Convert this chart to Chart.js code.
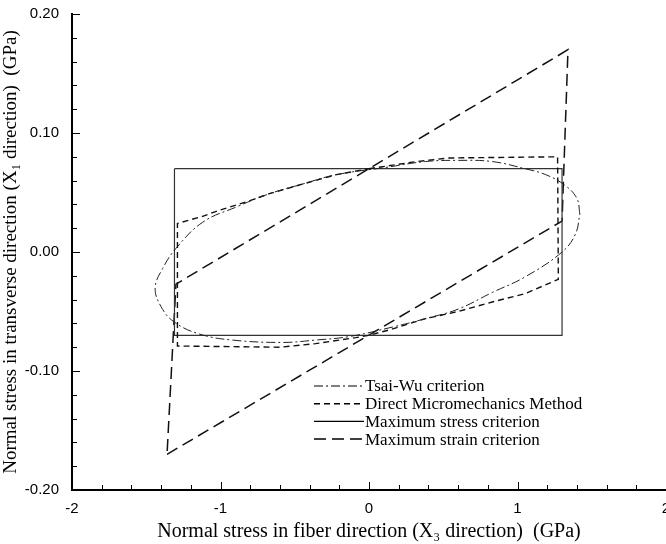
<!DOCTYPE html>
<html>
<head>
<meta charset="utf-8">
<script src="https://cdn.jsdelivr.net/npm/chart.js@4"></script>
<style>
    html, body { margin: 0; padding: 0; background: #fff; }
    #wrap { width: 666px; height: 544px; position: relative; }
</style>
</head>
<body>
<div id="wrap"><canvas id="chart"></canvas></div>
<script>
// failure envelopes (x = fiber dir GPa, y = transverse dir GPa)
const tsaiWuX = [1.42, 1.40, 1.32, 1.19, 1.05, 0.83, 0.60, 0.38, 0.11, -0.22, -0.45, -0.67, -0.89, -1.12, -1.30, -1.39, -1.44, -1.40, -1.31, -1.14, -0.92, -0.58, -0.36, -0.13, 0.16, 0.38, 0.60, 0.83, 1.05, 1.30, 1.39, 1.42];
const tsaiWuY = [0.032, 0.045, 0.056, 0.065, 0.070, 0.076, 0.077, 0.076, 0.071, 0.065, 0.057, 0.049, 0.038, 0.025, 0.003, -0.014, -0.030, -0.046, -0.059, -0.069, -0.074, -0.076, -0.074, -0.071, -0.063, -0.056, -0.048, -0.034, -0.021, 0.000, 0.015, 0.032];

const dmmX = [0, 0.16, 0.32, 0.54, 1.27, 1.275, 1.05, 0.83, 0.60, 0.38, 0.15, 0, -0.09, -0.36, -0.60, -1.29, -1.29, -1.12, -1.01, -0.83, -0.67, -0.45, -0.22, 0];
const dmmY = [0.070, 0.073, 0.076, 0.079, 0.080, -0.023, -0.035, -0.042, -0.050, -0.056, -0.065, -0.070, -0.072, -0.077, -0.080, -0.079, 0.024, 0.030, 0.035, 0.042, 0.049, 0.057, 0.065, 0.070];

const maxStressX = [-1.31, 1.30, 1.30, -1.31, -1.31];
const maxStressY = [0.07, 0.07, -0.07, -0.07, 0.07];

const maxStrainX = [-1.36, 1.30, 1.34, -1.30, -1.36];
const maxStrainY = [-0.17, 0.026, 0.17, -0.027, -0.17];

const seriesLabels = ['Tsai-Wu criterion', 'Direct Micromechanics Method', 'Maximum stress criterion', 'Maximum strain criterion'];
const xTickValues = [-2, -1, 0, 1, 2];
const yTickValues = [-0.2, -0.1, 0, 0.1, 0.2];

const toPts = (xs, ys) => xs.map((x, i) => ({ x: x, y: ys[i] }));

// ticks drawn inward, major + minor, like the original plot
const inwardTicks = {
    id: 'inwardTicks',
    afterDraw(chart) {
        const ctx = chart.ctx;
        const xs = chart.scales.x, ys = chart.scales.y;
        const area = chart.chartArea;
        ctx.save();
        ctx.strokeStyle = '#000';
        ctx.lineWidth = 1;
        for (let i = -20; i <= 20; i += 2) {
            const px = Math.round(xs.getPixelForValue(i / 10)) + 0.5;
            const len = (i % 10 === 0) ? 8 : 5;
            ctx.beginPath();
            ctx.moveTo(px, area.bottom);
            ctx.lineTo(px, area.bottom - len);
            ctx.stroke();
        }
        for (let i = -10; i <= 10; i++) {
            const py = Math.round(ys.getPixelForValue(i / 50)) + 0.5;
            const len = (i % 5 === 0) ? 8 : 5;
            ctx.beginPath();
            ctx.moveTo(area.left, py);
            ctx.lineTo(area.left + len, py);
            ctx.stroke();
        }
        ctx.restore();
    }
};

// legend sitting inside the plot, lower right
const innerLegend = {
    id: 'innerLegend',
    afterDraw(chart) {
        const ctx = chart.ctx;
        ctx.save();
        ctx.font = '17px "Liberation Serif", "Times New Roman", serif';
        ctx.textBaseline = 'middle';
        ctx.fillStyle = '#000';
        chart.data.datasets.forEach((ds, i) => {
            const y = 386 + i * 17.7;
            ctx.strokeStyle = '#000';
            ctx.lineWidth = ds.borderWidth;
            ctx.setLineDash(ds.borderDash || []);
            ctx.beginPath();
            ctx.moveTo(314, y);
            ctx.lineTo(364, y);
            ctx.stroke();
            ctx.setLineDash([]);
            ctx.fillText(ds.label, 365, y + 1);
        });
        ctx.restore();
    }
};

const ctx = document.getElementById('chart').getContext('2d');
new Chart(ctx, {
    type: 'scatter',
    data: {
        datasets: [
            {
                label: seriesLabels[0],
                data: toPts(tsaiWuX, tsaiWuY),
                showLine: true,
                borderColor: '#222',
                borderWidth: 1,
                borderDash: [9, 3, 2, 3],
                tension: 0.4,
                pointRadius: 0
            },
            {
                label: seriesLabels[1],
                data: toPts(dmmX, dmmY),
                showLine: true,
                borderColor: '#111',
                borderWidth: 1.4,
                borderDash: [6, 4],
                tension: 0,
                pointRadius: 0
            },
            {
                label: seriesLabels[2],
                data: toPts(maxStressX, maxStressY),
                showLine: true,
                borderColor: '#333',
                borderWidth: 1.2,
                pointRadius: 0
            },
            {
                label: seriesLabels[3],
                data: toPts(maxStrainX, maxStrainY),
                showLine: true,
                borderColor: '#111',
                borderWidth: 1.5,
                borderDash: [12, 6],
                pointRadius: 0
            }
        ]
    },
    options: {
        responsive: true,
        maintainAspectRatio: false,
        animation: false,
        layout: { padding: { top: 14, right: 0, left: 0, bottom: 0 } },
        scales: {
            x: {
                type: 'linear',
                min: -2,
                max: 2,
                afterBuildTicks: (scale) => { scale.ticks = xTickValues.map(v => ({ value: v })); },
                afterFit: (scale) => { scale.height = 54; scale.paddingRight = 0; scale.paddingLeft = 0; },
                ticks: {
                    color: '#000',
                    padding: 10,
                    font: { size: 15, family: '"Liberation Sans", Arial, sans-serif' },
                    callback: (v) => String(v)
                },
                grid: { display: false, drawTicks: false },
                border: { display: true, color: '#000', width: 2 },
                title: {
                    display: true,
                    text: 'Normal stress in fiber direction (X\u2083 direction)  (GPa)',
                    color: '#000',
                    padding: { top: 1, bottom: 0 },
                    font: { size: 20, family: '"Liberation Serif", "Times New Roman", serif' }
                }
            },
            y: {
                type: 'linear',
                min: -0.2,
                max: 0.2,
                afterBuildTicks: (scale) => { scale.ticks = yTickValues.map(v => ({ value: v })); },
                afterFit: (scale) => { scale.width = 72; scale.paddingTop = 0; scale.paddingBottom = 0; },
                ticks: {
                    color: '#000',
                    padding: 13,
                    font: { size: 15, family: '"Liberation Sans", Arial, sans-serif' },
                    callback: (v) => Number(v).toFixed(2)
                },
                grid: { display: false, drawTicks: false },
                border: { display: true, color: '#000', width: 2 },
                title: {
                    display: true,
                    text: 'Normal stress in transverse direction (X\u2081 direction)  (GPa)',
                    color: '#000',
                    padding: { top: 0, bottom: 2 },
                    font: { size: 19, family: '"Liberation Serif", "Times New Roman", serif' }
                }
            }
        },
        plugins: {
            legend: { display: false },
            tooltip: { enabled: false }
        }
    },
    plugins: [inwardTicks, innerLegend]
});
</script>
</body>
</html>
